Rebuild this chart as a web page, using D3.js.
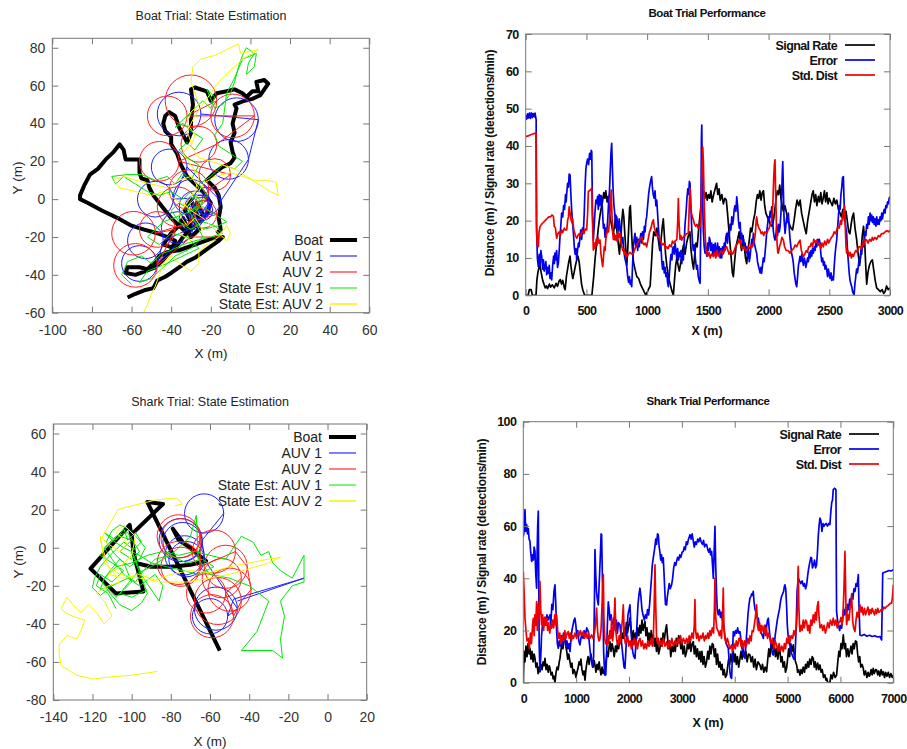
<!DOCTYPE html>
<html>
<head>
<meta charset="utf-8">
<script src="https://cdn.jsdelivr.net/npm/d3@7"></script>
<style>
  body { margin: 0; background: #fff; }
  svg { display: block; }
</style>
</head>
<body>
<svg id="chart" width="907" height="749"></svg>
<script>
//--boat trial: state estimation (x, y in m)--
var boatTrialBoat = [
  [-62,-52],[-58,-50],[-53,-48],[-49,-47],[-47,-43],[-43,-41],[-40,-39],
  [-36,-36],[-32,-33],[-28,-31],[-24,-28],[-20,-25],[-16,-22],[-14,-20],
  [-20,-21],[-28,-24],[-36,-27],[-42,-28],[-46,-30],[-48,-33],
  [-52,-37],[-56,-36],[-62,-36],[-63,-39],[-58,-40],[-53,-38],
  [-48,-36],[-44,-32],[-40,-27],[-38,-22],[-42,-20],[-47,-18],
  [-54,-16],[-60,-14],[-67,-10],[-75,-6],[-82,-2],[-86,0],[-86,2],[-84,7],[-81,13],[-77,16],
  [-73,21],[-69,25],[-66,29],[-64,26],[-63,21],[-59,21],[-56,21],[-56,14],[-55,11],[-52,10],
  [-51,6],[-49,2],[-46,-2],[-43,-6],[-40,-10],
  [-36,-14],[-34,-10],[-30,-20],[-26,-16],[-30,-8],[-27,-2],[-24,-8],[-28,-14],[-34,-20],
  [-38,-26],[-44,-24],[-40,-18],
  [-36,-14],[-32,-18],[-30,-12],[-33,-6],[-30,0],[-28,-6],[-25,-12],[-22,-8],[-20,-2],[-24,4],
  [-28,8],[-32,12],[-35,18],[-37,24],[-40,29],[-40,33],[-43,36],[-44,40],[-43,44],[-41,46],
  [-38,44],[-36,38],[-34,34],[-32,30],[-30,35],[-30,42],[-29,50],[-30,58],[-28,59],
  [-22,57],[-20,52],[-17,56],[-12,57],[-8,58],[-4,56],[-2,54],[1,57],[4,57],[3,62],[7,63],
  [9,61],[7,58],[5,55],[1,53],[-3,52],[-8,50],
  [-7,48],[-8,44],[-9,40],[-8,35],[-10,30],[-9,25],[-8,22],[-10,19],[-14,17],[-18,14],
  [-22,10],[-18,6],[-16,2],[-15,-4],[-16,-10],[-15,-16],[-17,-18]
];
// AUV tracks: [x, y, loop radius] (radius 0 = transit point)
var boatTrialAuv1 = [
  [-36,45,11],[-7,42,11],[-11,21,10],[-22,-1,7],[-41,17,9],[-48,0,9],[-30,1,9],
  [-27,-4,6],[-28,-4,8],[-37,-15,8],[-53,-22,9],[-56,-34,9],[-24,-6,5],[-30,-10,6],
  [-25,-2,4]
];
var boatTrialAuv2 = [
  [-30,52,13],[-42,44,10],[-9,44,11],[-26,29,9],[-46,20,10],[-18,13,8],[-31,5,10],
  [-37,-4,10],[-24,-8,7],[-59,-18,11],[-47,-16,9],[-58,-35,11],[-30,-20,0],[-14,-20,0]
];
var boatTrialEst1 = [
  [-60,-45],[-65,-40],[-62,-33],[-55,-30],[-50,-34],[-45,-29],[-40,-27],[-34,-24],[-28,-22],
  [-20,-20],[-14,-18],[-18,-14],[-24,-12],[-30,-16],[-36,-12],[-40,-6],[-36,-2],[-30,-6],
  [-26,-2],[-30,4],[-34,0],[-40,4],[-46,2],[-52,4],[-58,8],[-64,12],[-68,8],[-70,12],
  [-62,13],[-55,13],[-48,10],[-42,12],[-38,8],[-34,14],[-30,10],[-26,18],[-32,22],[-36,26],
  [-32,30],[-28,26],[-24,32],[-30,36],[-34,40],[-38,38],[-32,44],[-28,48],[-24,52],[-20,48],
  [-18,54],[-22,58],[-18,48],[-14,50],[-10,56],[-8,62],[-6,70],[-4,76],[-2,80],[2,77],
  [-1,72],[-2,66],[2,70],[3,77],[-4,74],[-8,64],[-12,56],[-14,40],[-18,34],[-16,28],
  [-10,24],[-4,20],[-8,16],[-14,18],[-20,12],[-26,8],[-22,2],[-26,-4],[-30,-10],[-24,-16],
  [-16,-14],[-12,-12],[-18,-8],[-24,-4],[-34,-8],[-44,-12],[-52,-20],[-46,-24],[-40,-18],
  [-32,-20],[-26,-26],[-34,-30],[-42,-34],[-52,-38],[-56,-44],[-50,-42],
  [-44,-36],[-38,-30],[-30,-26],[-24,-20],[-28,-12],[-32,-4],[-28,2],[-24,-2],[-30,-6]
];
var boatTrialEst2 = [
  [-54,-60],[-52,-56],[-50,-50],[-48,-46],[-46,-40],[-44,-34],[-40,-30],[-36,-34],[-30,-38],
  [-26,-34],[-26,-28],[-22,-24],[-16,-20],[-12,-14],[-10,-18],[-12,-22],[-18,-16],[-24,-10],
  [-30,-6],[-34,-2],[-30,2],[-26,6],[-30,12],[-36,10],[-42,6],[-50,8],[-58,10],[-64,12],
  [-69,10],[-66,6],[-58,4],[-50,2],[-44,4],[-38,0],[-32,-4],[-28,0],[-24,8],[-18,12],
  [-10,14],[-4,12],[2,10],[8,10],[13,9],[14,2],[10,4],[4,8],[-2,12],[-8,16],[-14,18],
  [-20,20],[-26,22],[-30,28],[-28,34],[-32,40],[-30,46],[-26,50],[-28,56],[-30,62],[-29,70],
  [-25,74],[-18,76],[-12,79],[-6,82],[-5,77],[0,78],[4,79],[-4,74],[-10,68],[-16,62],
  [-20,56],[-24,50],[-28,44],[-32,36],[-30,30],[-34,24],[-30,18],[-26,12],[-28,4],[-32,-2],
  [-36,-8],[-32,-14],[-28,-10],[-24,-16],[-30,-22],[-36,-18]
];

//--shark trial: state estimation--
var sharkTrialBoat = [
  [-55,-54],[-92,24],[-84,23],[-100,7],[-99,-3],[-94,-23],[-108,-24],[-121,-11],[-101,12],
  [-98,-8],[-90,-10],[-80,-10],[-70,-9],[-62,-7],[-68,-2],[-74,3],[-79,10],[-76,4],[-70,0],[-66,-4]
];
var sharkTrialAuv1 = [
  [-63,18,10],[-75,4,11],[-74,3,10],[-73,-4,10],[-72,-6,9],[-57,-32,11],[-60,-36,9],
  [-48,-27,0],[-12,-16,0],[-46,-28,0]
];
var sharkTrialAuv2 = [
  [-76,6,11],[-75,5,10],[-76,-8,11],[-75,-10,10],[-58,-2,11],[-52,-10,11],[-50,-22,11],
  [-56,-28,12],[-59,-36,11],[-62,-24,10],[-54,-16,10]
];
var sharkTrialEst1 = [
  [-108,-32],[-112,-24],[-118,-20],[-116,-14],[-110,-18],[-104,-12],[-110,-8],[-116,-4],
  [-112,2],[-106,6],[-100,4],[-106,-2],[-100,-6],[-96,-2],[-102,8],[-108,6],[-114,0],
  [-110,-6],[-104,-14],[-98,-18],[-94,-12],[-88,-6],[-80,-4],[-72,-8],[-64,-6],[-58,-10],
  [-66,-14],[-74,-12],[-82,-10],[-90,-8],[-96,-4],[-104,0],[-110,4],[-114,8],[-108,4],
  [-104,10],[-102,4],[-98,8],[-95,3],[-99,-1],[-104,3],[-108,-1],[-112,-5],[-116,-10],
  [-119,-16],[-120,-21],[-116,-25],[-112,-22],[-108,-26],[-104,-22],[-100,-18],[-104,-8],
  [-109,-3],[-113,3],[-110,9],[-106,12],[-102,10],[-97,5],[-93,0],[-96,-6],[-101,-10],
  [-106,-6],[-111,-12],[-115,-18],[-111,-24],[-106,-30],[-100,-33],[-95,-29],[-92,-24],
  [-100,-2],[-94,-16],[-86,-28],[-84,-20],[-88,-14],[-96,-20],[-102,-16],[-110,-20],
  [-116,-22],[-114,-16],[-108,-10],[-100,-8],[-92,-4],[-84,-2],[-76,-4],[-68,-2],[-60,-4],
  [-52,-6],[-44,6],[-38,3],[-34,-4],[-30,-2],[-28,-8],[-24,-12],[-18,-16],[-12,-4],
  [-12,-18],[-18,-20],[-24,-28],[-22,-36],[-24,-48],[-23,-58],[-28,-54],[-36,-54],
  [-44,-54],[-36,-44],[-30,-28],[-40,-20],[-50,-16],[-60,-14],[-66,-6],[-67,17],[-70,6],
  [-78,-2],[-90,-10],[-98,-14],[-106,-24],[-100,-26],[-92,-22]
];
var sharkTrialEst2 = [
  [-87,-65],[-100,-67],[-112,-68],[-120,-69],[-128,-67],[-136,-62],[-137,-56],[-137,-51],
  [-133,-46],[-128,-48],[-126,-44],[-124,-38],[-130,-36],[-134,-34],[-136,-32],[-133,-26],
  [-130,-30],[-126,-34],[-122,-30],[-118,-34],[-114,-40],[-110,-36],[-114,-28],[-118,-24],
  [-112,-20],[-106,-18],[-110,-12],[-114,-8],[-116,6],[-112,2],[-106,-2],[-102,2],[-108,8],
  [-104,12],[-98,6],[-100,-4],[-106,-10],[-112,-14],[-104,-16],[-96,-14],[-88,-17],[-80,-14],
  [-70,-12],[-60,-13],[-50,-10],[-40,-8],[-30,-6],[-24,-5],[-30,-8],[-40,-11],[-50,-14],
  [-60,-16],[-72,-18],[-84,-18],[-96,-16],[-106,-14],[-112,-10],[-116,4],[-107,20],
  [-104,21],[-96,23],[-88,25],[-80,26],[-77,26],[-74,23],[-78,22]
];

//--boat trial performance: [time, value]--
var boatSignal = [
  [0,0],[20,0],[30,1.5],[45,1.5],[55,0],[85,0],[92,4],[100,6],[110,7.5],[118,8],[128,6],
  [140,4],[150,3],[160,2],[170,2.5],[180,1.8],[195,3],[205,2.2],[220,2.8],[235,2],[250,3.2],
  [262,2.4],[275,3.8],[285,4.2],[295,3],[305,4],[318,2],[325,1.5],[335,5],[345,7],[355,9],
  [365,10.5],[372,8],[380,6],[388,4.5],[398,6],[410,8],[420,9.5],[430,10.5],[440,9],[450,6],
  [460,3],[470,1.5],[485,0],[545,0],[560,5],[572,10],[585,14],[598,18],[610,21],[620,23],
  [632,25],[643,27.5],[652,26],[660,28],[670,25],[680,26.5],[690,22],[700,20],[712,18],
  [722,16.5],[732,19],[742,21.5],[752,17],[762,14],[772,11],[782,15],[792,20],[800,23],
  [808,21],[815,17],[825,12],[832,8],[840,12],[848,18],[856,23.5],[862,24],[870,18],[878,13],
  [887,9],[900,7],[915,5],[930,4.5],[945,3],[960,2],[975,1],[990,0],[1010,1.5],[1025,2.5],
  [1035,8],[1045,14],[1055,17],[1068,16],[1080,18],[1092,15],[1104,12],[1115,15],[1125,18.5],
  [1133,20.5],[1142,16],[1152,11],[1162,8],[1175,5],[1190,3],[1205,1],[1216,0],[1225,4],
  [1235,8],[1245,10],[1255,8],[1265,6.5],[1278,9],[1290,12],[1300,13.5],[1312,11],[1325,14],
  [1340,16],[1352,17],[1362,12],[1372,9],[1382,7],[1392,11],[1402,14],[1412,13],[1425,18],
  [1440,23],[1455,27],[1465,28],[1475,26],[1485,27.5],[1495,25.5],[1505,27],[1515,26],
  [1525,28],[1535,25],[1548,27],[1560,28.5],[1572,30],[1582,27],[1592,28.5],[1602,25.5],
  [1615,27],[1628,24.5],[1640,26],[1652,25.5],[1662,22],[1672,18],[1682,14],[1692,10],
  [1702,6],[1710,5],[1720,9],[1732,13],[1745,15],[1758,17],[1768,14],[1778,12],[1790,16],
  [1800,13],[1810,10],[1820,8.5],[1830,12],[1842,15],[1852,18],[1862,17],[1875,20],[1888,22],
  [1898,25],[1908,27],[1918,26],[1928,28],[1938,25.5],[1948,27.5],[1958,28],[1968,24],
  [1978,22],[1990,21],[2002,20],[2015,19],[2028,18.5],[2040,20],[2052,23],[2062,26],[2072,28],
  [2082,27],[2092,29.5],[2102,26],[2112,24],[2122,22.5],[2135,24],[2148,22],[2160,20],
  [2172,19],[2185,18],[2198,17.5],[2210,20],[2222,23],[2235,25.5],[2248,24],[2260,25.5],
  [2272,22],[2285,20],[2298,18],[2310,16.5],[2322,20],[2335,22.5],[2348,25],[2358,27],
  [2368,28],[2378,25],[2388,27],[2398,24],[2410,26.5],[2420,25],[2430,27.5],[2440,24.5],
  [2450,26],[2460,28],[2470,25],[2480,27.5],[2490,24.5],[2500,26],[2512,25],[2525,24],
  [2538,26],[2550,24.5],[2562,25.5],[2575,23],[2588,22],[2600,21],[2612,23],[2625,20],
  [2638,22.5],[2650,19.5],[2660,17],[2670,16.5],[2680,19],[2690,21],[2700,22],[2712,18],
  [2725,15],[2738,11],[2750,8],[2762,12],[2772,16],[2782,18.5],[2792,14],[2800,8],[2808,3],
  [2818,6],[2830,8],[2842,9],[2855,9.5],[2865,7],[2878,4],[2890,2],[2905,1.5],[2920,1],
  [2935,1.5],[2948,0.5],[2960,1],[2972,2.5],[2985,1.5],[3000,2]
];
var boatError = [
  [0,48.3],[8,47.2],[15,48.6],[22,47.5],[30,48.8],[38,47.4],[46,48.9],[54,47.6],[62,48.7],
  [70,47.8],[77,48.8],[86,47],[90,18.4],[96,10],[104,7.7],[112,11],[118,8],[125,12],[132,10.4],
  [140,7],[146,9.5],[152,6.5],[159,7.7],[166,9],[173,5.5],[180,7.5],[187,5.9],[194,8],[200,4.5],
  [207,6],[214,4.1],[222,8],[230,10.5],[236,8.5],[241,11.3],[248,9.5],[255,12],[262,7.5],
  [269,8.6],[276,12],[283,16],[290,19],[296,22],[305,21],[312,24],[320,23],[328,27],[333,25],
  [338,27.3],[345,30],[352,29],[358,32.5],[365,32.2],[372,27],[380,22],[387,19],[393,16.6],
  [400,13],[407,11],[414,12.5],[420,9.5],[427,12],[434,14],[440,13],[447,15.7],[454,17.5],
  [461,15],[468,18],[475,16.6],[482,22],[490,30],[496,34],[502,35.4],[510,36.5],[518,35],
  [526,38],[533,36.5],[540,38.8],[544,38.5],[550,22],[557,14.8],[563,18],[570,22],[578,25.5],
  [585,24.6],[592,26.5],[598,23],[605,27],[612,24],[619,26.8],[626,26.3],[633,22],[640,18],
  [647,19],[654,15.5],[660,18],[667,16.6],[675,20],[683,25],[690,28],[697,34],[702,38],
  [708,40.7],[714,34],[720,28],[727,24],[736,21],[743,18],[750,21],[757,19],[764,17],
  [770,20.5],[777,18.4],[785,16],[792,14],[800,15.5],[808,12],[816,10],[824,9],[832,7.7],
  [840,5],[847,3.5],[854,5],[860,3],[866,4],[873,2.3],[880,8],[887,13],[893,15],[900,16.6],
  [908,13],[915,15.5],[922,12],[930,15],[935,13],[941,14.8],[948,16.5],[955,14],[962,17],
  [970,15],[977,18.5],[983,17],[990,20],[996,21],[1004,24],[1012,27],[1020,29],[1028,30.5],
  [1037,31.8],[1043,29],[1050,27],[1058,26],[1065,28],[1072,24],[1079,25.5],[1086,22],
  [1093,18],[1100,15],[1107,12],[1113,13.5],[1120,9.5],[1127,7],[1134,9],[1141,6],[1148,7.5],
  [1155,5],[1162,6],[1168,3.5],[1175,2.3],[1182,5],[1190,9],[1197,11],[1204,9.5],[1210,12.5],
  [1216,13],[1223,11],[1230,14],[1237,12],[1244,10],[1251,12.5],[1258,9.5],[1264,11.5],
  [1271,10.4],[1278,12],[1285,8.5],[1292,11],[1298,9.5],[1305,14],[1312,19],[1320,22],
  [1328,26],[1335,28.5],[1342,27],[1348,30.5],[1353,30],[1360,24],[1367,18],[1374,14],
  [1380,12],[1387,13.5],[1394,11.3],[1400,9],[1407,7],[1414,8],[1421,5],[1428,4],[1436,3.2],
  [1442,20],[1447,42],[1450,45.6],[1455,30],[1462,18],[1470,13],[1477,11.3],[1484,13],
  [1491,10.5],[1498,14],[1505,12],[1512,15.5],[1518,14.8],[1525,12],[1532,14],[1540,11],
  [1547,13.5],[1554,11],[1560,14],[1567,10.5],[1573,12.1],[1580,14],[1587,11],[1594,13],
  [1601,10],[1608,12.5],[1614,10],[1621,13],[1628,11.3],[1635,14],[1641,12],[1648,15.5],
  [1655,16.6],[1662,14],[1669,17],[1676,16],[1683,19],[1690,17.5],[1697,21],[1704,19],
  [1710,20.2],[1717,23],[1724,24],[1731,22.5],[1738,26.4],[1745,24],[1752,20],[1759,18],
  [1766,19.5],[1772,15],[1779,16.6],[1786,14],[1793,15],[1800,12.5],[1807,14],[1814,11.5],
  [1821,13],[1828,10],[1835,12],[1841,9],[1848,10.4],[1855,13],[1862,15],[1868,13.5],
  [1875,16.6],[1882,14],[1889,13],[1896,12],[1902,11.3],[1909,9],[1916,8],[1923,7],[1930,6],
  [1937,7.5],[1943,5.9],[1950,8],[1957,10],[1964,9],[1971,11.3],[1978,14],[1985,17],[1992,19],
  [1999,21],[2006,20],[2013,22.5],[2020,21],[2026,23.7],[2033,20],[2040,17],[2047,15.5],
  [2053,14.8],[2060,16],[2067,18.5],[2074,16],[2081,19],[2088,17],[2095,18.4],[2102,22],
  [2109,28],[2113,33],[2117,35.8],[2122,28],[2128,20],[2136,16.6],[2143,19],[2150,21],
  [2157,19.5],[2163,22],[2170,18],[2177,15],[2184,13],[2191,11],[2198,10],[2204,8.6],[2211,6],
  [2218,4.5],[2225,3],[2232,2.3],[2239,5],[2246,8],[2252,9],[2259,10.4],[2266,9],[2273,11],
  [2280,9.5],[2287,8],[2294,10],[2301,9],[2307,7.5],[2314,8.6],[2321,10],[2328,9],[2335,11.5],
  [2342,10],[2349,12],[2356,10.5],[2362,12.5],[2369,11.3],[2376,13],[2383,12],[2390,14.5],
  [2397,13],[2404,15],[2410,13.5],[2417,15],[2424,14],[2431,11],[2438,9],[2445,10],[2452,8],
  [2459,9],[2465,7],[2472,8],[2479,6.8],[2486,5],[2493,7],[2500,5.5],[2507,4.5],[2514,6],
  [2520,4],[2527,5],[2534,4.1],[2541,8],[2548,11],[2554,13],[2561,14.8],[2568,18],[2575,21],
  [2582,24],[2589,23],[2596,27],[2603,29],[2609,31.5],[2616,31.8],[2622,25],[2630,20],
  [2637,18],[2643,16.6],[2650,12],[2657,9],[2664,6],[2671,4],[2678,3],[2685,2.3],[2692,1],
  [2704,0],[2711,3],[2718,5],[2725,7],[2732,6],[2739,7.7],[2746,10],[2753,9],[2760,12],
  [2767,11],[2774,14],[2781,13],[2788,15],[2795,17],[2801,16],[2808,19],[2815,18],[2822,21],
  [2829,19],[2836,22],[2843,20],[2849,21.5],[2856,19.5],[2863,21],[2870,19],[2877,20.5],
  [2884,18.5],[2891,21],[2897,19],[2904,20.2],[2911,19],[2918,21],[2925,20],[2932,22],
  [2938,20.5],[2945,22],[2952,23],[2959,22],[2966,24],[2973,23.5],[2980,25],[2987,24.5],
  [2993,26],[3000,26.4]
];
var boatStdDist = [
  [0,42.5],[20,42.7],[40,43],[60,43.2],[85,43.5],[88,20],[90,16.6],[95,13.5],[100,15],[104,13],
  [110,17],[118,18.4],[130,19],[145,19.5],[160,20],[175,20.5],[190,21],[205,21],[215,21.5],
  [228,21.2],[235,18.5],[245,18],[255,15.3],[265,16.5],[275,17],[285,16],[295,17.5],[305,16.8],
  [318,18],[328,17.5],[338,17.5],[345,20],[352,21],[358,23.7],[365,22],[372,20.5],[380,19.5],
  [386,20.5],[393,18.4],[400,17],[410,16],[420,15.3],[430,16],[440,16.5],[450,15.8],[460,16.8],
  [470,17.2],[480,16.5],[490,17.8],[502,17.5],[510,22],[516,27.8],[525,28],[535,28.3],
  [544,28.7],[550,20],[557,12.1],[565,14],[572,12.5],[580,15],[588,13.5],[596,15.5],[604,14],
  [612,14.8],[620,11],[628,9],[634,7.7],[640,10],[647,13],[654,12],[660,15],[667,16.6],
  [675,18],[682,17],[690,20],[698,24],[704,28.2],[710,22],[716,17],[722,15],[729,16.5],
  [736,14.8],[744,16],[752,14.5],[760,17],[768,15.5],[777,16.6],[785,14],[792,13],[800,12],
  [808,12.5],[816,11],[824,11.5],[832,10.4],[845,11],[860,11.5],[875,11],[887,11.3],[900,12.5],
  [915,13.5],[930,14.5],[942,15],[955,15.7],[965,14],[975,13.5],[985,14],[996,13],[1008,15],
  [1020,17],[1032,18],[1042,19.5],[1051,20.2],[1060,18],[1070,17],[1080,16],[1090,15.5],
  [1098,16],[1106,14.8],[1118,14],[1130,13.5],[1142,14],[1150,12.5],[1161,13],[1172,12.5],
  [1185,13.5],[1198,13],[1208,14.5],[1216,14],[1230,14.5],[1245,15],[1252,20],[1257,25.9],
  [1262,20],[1270,15],[1278,16],[1285,14.8],[1295,15.5],[1310,16],[1325,16.5],[1339,16.6],
  [1345,22],[1350,27],[1353,28.7],[1358,25],[1365,22],[1373,21],[1381,20.2],[1390,19],
  [1400,18.5],[1410,19],[1420,18],[1428,18.5],[1436,18.4],[1445,25],[1452,34],[1458,39.8],
  [1463,36],[1470,25],[1478,16],[1485,12],[1490,11.3],[1500,10.5],[1510,11.5],[1520,10],
  [1530,11],[1545,10.4],[1555,11.5],[1565,10],[1575,12],[1585,10.5],[1600,11.3],[1612,12],
  [1625,11],[1640,12.5],[1655,13],[1665,12],[1675,11],[1690,12],[1700,11],[1710,11.3],
  [1722,12.5],[1735,13.5],[1748,14],[1758,15],[1765,14.8],[1775,13],[1785,12.5],[1798,13],
  [1810,12],[1820,12.1],[1832,13],[1845,12.5],[1858,13.5],[1868,13],[1875,14],[1885,15],
  [1892,17],[1898,20],[1902,21],[1910,19],[1920,18],[1930,17.5],[1940,16.5],[1950,17],
  [1960,16],[1970,17],[1985,16.6],[1995,17.5],[2005,18],[2015,19],[2026,20.2],[2035,24],
  [2042,31],[2048,35],[2053,36.3],[2058,28],[2064,20],[2070,14],[2076,11.5],[2081,11.3],
  [2090,13],[2100,14],[2110,15.5],[2122,14.8],[2132,13],[2145,12],[2160,12],[2177,11.3],
  [2190,12],[2205,12.5],[2220,13.5],[2232,13],[2245,14],[2259,14.8],[2270,12],[2280,11],
  [2287,10.4],[2298,11],[2310,12],[2320,11.5],[2330,13],[2341,13],[2352,14],[2362,13],
  [2372,15],[2384,14],[2396,14.8],[2408,13.5],[2420,14],[2430,12.5],[2440,14],[2451,13],
  [2462,14.5],[2474,13.5],[2486,15],[2496,14],[2506,14.8],[2518,15.5],[2530,16],[2540,17],
  [2550,16.5],[2561,17.5],[2572,18.5],[2582,18],[2592,20],[2600,19],[2608,21],[2616,22],
  [2625,24],[2632,18],[2638,13],[2643,11.3],[2652,12],[2662,10.5],[2672,11.5],[2682,10],
  [2690,11],[2698,10.4],[2710,11.5],[2720,12],[2730,11.5],[2742,13],[2753,13],[2765,12.5],
  [2775,14],[2785,13.5],[2796,15],[2808,14.8],[2820,14],[2832,15],[2845,14.5],[2855,15.5],
  [2863,14.8],[2875,15.5],[2890,15],[2905,16],[2918,15.7],[2930,16.5],[2945,16.5],[2960,17],
  [2975,17.3],[2990,17],[3000,17.5]
];

//--shark trial performance--
var sharkSignal = [
  [0,0],[15,12],[32,8],[50,14],[70,10],[90,15],[110,11],[126,13.2],[145,9],[165,12],[185,8],
  [205,11],[221,9.3],[240,6],[260,7.5],[280,3.5],[300,6],[315,4.2],[335,7],[355,5],[375,8],
  [395,6.5],[410,9.3],[430,5],[450,7],[470,4],[490,6.5],[505,5.5],[525,3],[545,4],[565,1.5],
  [580,2.5],[599,0],[620,4],[640,6],[660,5],[680,8],[694,9.3],[710,12],[730,15],[750,13],
  [770,17],[788,18.3],[805,14],[822,12],[840,9],[860,11],[883,8],[900,6],[920,7.5],[940,3.5],
  [960,5],[977,4.2],[995,2],[1015,4],[1035,5.5],[1055,8],[1072,6.8],[1090,9],[1110,5],[1130,3],
  [1150,4.5],[1167,1],[1185,5],[1205,8],[1225,10],[1245,7],[1261,9.3],[1280,11],[1300,8],
  [1320,6],[1340,8.5],[1356,6.8],[1375,4],[1395,7],[1415,5],[1435,8],[1450,5.5],[1470,3],
  [1490,6],[1510,3.5],[1530,5],[1545,4.2],[1565,8],[1585,12],[1605,10],[1625,14],[1640,15.7],
  [1660,12],[1680,15],[1700,13],[1720,10],[1745,14],[1766,11.9],[1785,16],[1805,13],[1825,18],
  [1850,15],[1870,19],[1892,17],[1910,21],[1930,18],[1950,23],[1970,19],[1995,22],[2018,24.7],
  [2040,20],[2060,16],[2080,20],[2100,15],[2120,19],[2144,17],[2165,21],[2185,18],[2205,22],
  [2225,19],[2245,24],[2265,20],[2285,22],[2302,23.4],[2320,18],[2340,21],[2360,16],[2380,19],
  [2400,15],[2420,20],[2440,17],[2459,18.3],[2480,14],[2500,17],[2520,12],[2540,16],[2560,11],
  [2585,13.2],[2605,17],[2625,14],[2645,19],[2665,16],[2690,20],[2711,22.2],[2730,17],
  [2750,13],[2770,16],[2790,10],[2815,14],[2837,11.9],[2855,15],[2875,12],[2895,17],[2915,14],
  [2940,18],[2963,17],[2980,13],[3000,16],[3020,11],[3045,14],[3065,10],[3090,11.9],[3110,16],
  [3130,13],[3150,17],[3170,12],[3195,15],[3216,15.7],[3235,11],[3255,14],[3275,10],[3295,13],
  [3320,9],[3342,11.9],[3360,8],[3380,12],[3400,7],[3420,10],[3445,6],[3468,8],[3490,12],
  [3510,9],[3530,14],[3550,11],[3575,15],[3594,14.5],[3615,10],[3635,13],[3655,7],[3675,11],
  [3700,6],[3720,8],[3740,5],[3760,7],[3780,3],[3800,5],[3825,2],[3847,2.9],[3865,6],[3885,9],
  [3905,7],[3925,11],[3950,8],[3973,11.9],[3990,8],[4010,11],[4030,7],[4050,10],[4075,6],
  [4099,9.3],[4120,12],[4140,9],[4160,13],[4185,10],[4210,12],[4235,8],[4260,11],[4288,10.6],
  [4310,8],[4335,10],[4360,6],[4385,9],[4410,5],[4440,8],[4477,6.8],[4500,5],[4525,7],[4550,4],
  [4575,6],[4603,4.2],[4625,9],[4645,13],[4665,10],[4690,15],[4710,13],[4729,17],[4750,14],
  [4770,10],[4790,13],[4815,9],[4835,13],[4855,11.9],[4875,8],[4895,10],[4915,6],[4940,8],
  [4960,4],[4981,5.5],[5000,9],[5020,13],[5040,10],[5060,15],[5085,12],[5108,14.5],[5130,10],
  [5150,8],[5171,6.8],[5190,4],[5210,5],[5234,2.9],[5255,5],[5275,3.5],[5295,6],[5320,4],
  [5340,7],[5360,5.5],[5380,8],[5400,6],[5420,9],[5445,7],[5465,10],[5486,9.3],[5505,6],
  [5525,8],[5545,5],[5570,7.5],[5590,5],[5612,6.8],[5635,4],[5655,5],[5680,2],[5705,3],
  [5725,1],[5739,1.7],[5760,0],[5801,0],[5820,3],[5845,1.5],[5870,4],[5900,2],[5927,2.9],
  [5950,8],[5970,12],[5990,10],[6010,15],[6030,13],[6054,18.3],[6075,13],[6095,15],[6115,10],
  [6140,13],[6160,10],[6180,11.9],[6200,14],[6220,11],[6240,15],[6260,13],[6285,16],
  [6306,15.7],[6325,11],[6345,8],[6365,10],[6385,6],[6410,7],[6432,5.5],[6450,3],[6475,4.5],
  [6500,2],[6525,4],[6545,2.5],[6558,2.9],[6580,5],[6600,3],[6620,5.5],[6640,3.5],[6665,5],
  [6684,4.9],[6705,3],[6725,4.5],[6745,2.5],[6770,5],[6790,3],[6810,4.2],[6835,2],[6855,4],
  [6880,2.5],[6905,4],[6930,2],[6955,3.5],[6980,2],[7000,2.9]
];
var sharkError = [
  [0,56],[15,58],[32,66.3],[45,58],[63,60.6],[80,57],[95,59],[110,55],[126,54.2],[140,50],
  [158,46.5],[175,49],[190,47],[205,52],[221,50.3],[235,42],[252,36.2],[262,50],[272,60],
  [284,65.7],[292,40],[300,15],[315,4.2],[330,10],[345,18],[362,22],[378,24.7],[395,22],
  [412,25],[430,23],[448,26],[465,24],[485,25],[505,26],[520,22],[540,30],[560,28],[580,35],
  [599,37.5],[615,30],[630,20],[645,15],[662,13.2],[680,16],[700,14],[720,18],[740,15],
  [760,19],[775,16],[788,17],[805,14],[825,16],[845,13],[865,15],[883,11.9],[900,16],[920,20],
  [940,22],[960,24],[977,24.7],[995,22],[1010,18],[1030,20],[1050,16],[1072,14.5],[1090,17],
  [1110,19],[1130,17],[1150,20],[1175,18],[1200,21],[1230,19.6],[1250,15],[1270,11],[1293,8],
  [1310,6],[1330,10],[1345,30],[1356,51],[1370,42],[1385,35],[1400,32],[1419,29.8],[1440,40],
  [1460,50],[1472,57],[1482,56.7],[1492,45],[1505,30],[1520,12],[1535,5],[1545,2.9],[1560,3],
  [1575,10],[1590,22],[1608,31],[1625,28],[1640,24],[1660,26],[1680,23],[1703,22.2],[1720,25],
  [1740,20],[1760,24],[1780,19],[1800,23],[1829,22.2],[1850,17],[1870,13],[1890,9],[1905,6],
  [1923,5.5],[1940,12],[1960,20],[1980,26],[2000,28],[2018,29.8],[2035,22],[2050,16],[2070,12],
  [2090,10],[2113,9.3],[2130,15],[2150,22],[2170,30],[2190,34],[2207,36.2],[2225,33],[2245,28],
  [2265,26],[2290,24],[2310,26],[2333,24.7],[2350,28],[2370,26],[2390,30],[2410,36],[2425,40],
  [2440,45],[2459,47.8],[2475,50],[2490,52],[2505,55],[2520,53],[2540,57],[2554,56.7],
  [2570,52],[2585,50],[2600,47],[2615,49],[2630,46],[2648,47.8],[2662,42],[2675,36],[2690,30],
  [2711,29.8],[2725,33],[2740,35],[2760,38],[2780,36],[2806,37.5],[2825,40],[2845,44],
  [2865,46],[2885,45],[2900,46.5],[2920,48],[2940,47],[2960,49],[2980,48],[3005,50],
  [3027,50.3],[3045,52],[3065,51],[3085,54],[3105,53],[3125,55],[3153,56.7],[3175,55],
  [3195,57],[3216,54.2],[3235,52],[3255,54],[3275,53],[3300,55],[3320,54],[3342,55.5],
  [3365,54],[3390,53],[3410,54.5],[3430,52],[3450,53],[3468,52.9],[3490,51],[3510,50],
  [3530,51.5],[3545,49],[3563,50.3],[3580,45],[3595,40],[3610,50],[3626,59.9],[3640,45],
  [3655,35],[3670,28],[3689,26],[3710,28],[3730,25],[3750,27],[3765,24],[3783,23.4],[3800,20],
  [3820,17],[3840,15],[3860,14],[3878,13.2],[3895,8],[3910,4],[3925,2],[3941,1.7],[3955,10],
  [3973,19.6],[3995,18],[4015,20],[4035,19],[4055,21],[4075,19],[4099,19.6],[4120,16],
  [4140,13],[4160,11],[4175,10],[4193,9.3],[4210,14],[4230,20],[4250,26],[4270,30],[4288,32.4],
  [4305,33],[4320,34],[4335,33.5],[4351,35],[4365,31],[4385,28],[4405,27],[4425,25],
  [4446,24.7],[4465,22],[4485,20],[4505,19],[4525,18],[4540,17],[4560,20],[4580,22],[4600,21],
  [4620,24],[4635,24.7],[4655,20],[4675,16],[4695,13],[4715,11],[4729,10.6],[4745,14],
  [4765,18],[4785,21],[4805,24],[4824,26],[4845,28],[4865,31],[4885,33],[4905,34],[4925,35],
  [4940,37],[4950,37.5],[4965,36],[4980,30],[4995,22],[5010,18],[5025,16],[5045,14.5],
  [5060,12],[5080,11],[5100,10],[5120,9],[5139,9.3],[5160,20],[5180,35],[5202,40.1],[5225,39],
  [5250,38],[5275,39],[5300,37],[5320,38],[5340,36],[5360,37.5],[5380,41],[5400,44],[5420,46],
  [5440,48],[5454,47.8],[5470,44],[5490,45],[5510,47],[5530,44],[5549,45.2],[5565,50],
  [5580,56],[5595,60],[5612,63.1],[5630,62],[5650,58],[5670,61],[5690,60],[5707,60.6],
  [5730,61],[5755,60],[5780,61],[5801,60.6],[5820,66],[5835,69],[5850,70],[5864,74],
  [5890,74.5],[5915,74],[5920,50],[5927,27.3],[5945,24],[5965,22],[5985,20],[6005,22],
  [6022,20.9],[6040,24],[6060,28],[6080,26],[6100,29],[6117,26],[6135,30],[6155,28],[6175,32],
  [6195,30],[6215,34],[6235,32],[6255,36],[6275,35],[6295,38],[6315,37],[6338,41.4],[6350,30],
  [6369,18.3],[6400,18],[6450,18.5],[6500,17.8],[6550,18.2],[6600,17.7],[6650,18],[6700,17.5],
  [6747,17.7],[6779,16.4],[6790,30],[6800,42],[6873,42.6],[6920,43],[6960,42.8],[7000,43.3]
];
var sharkStdDist = [
  [0,42.6],[15,35],[32,24.7],[50,20],[70,16],[95,17],[115,13],[135,19],[155,15],[175,22],
  [189,24.7],[205,18],[220,26],[235,22],[252,31.1],[265,20],[280,30],[300,25],[315,38.8],
  [330,28],[347,22.2],[365,26],[385,20],[405,25],[425,22],[441,24.7],[460,20],[480,23],
  [500,19],[520,22],[536,20.9],[555,24],[575,21],[595,26],[615,22],[631,26],[650,20],[670,17],
  [690,19],[710,15],[725,15.7],[745,18],[765,16],[785,20],[805,17],[830,19],[851,19.6],
  [870,17],[890,19],[910,16],[930,18],[950,17],[975,19],[1009,17],[1030,19],[1055,18],
  [1080,20],[1105,18],[1135,19.6],[1160,17],[1185,19],[1210,17],[1235,19],[1260,17],
  [1293,18.3],[1320,17],[1345,19],[1365,22],[1387,28.6],[1405,20],[1420,17],[1435,16],
  [1450,17],[1470,20],[1490,30],[1505,38],[1514,41.4],[1525,25],[1540,17],[1560,15],
  [1577,14.5],[1595,18],[1615,15],[1635,20],[1655,17],[1671,24.7],[1690,16],[1710,20],
  [1725,28],[1734,32.4],[1750,20],[1770,16],[1797,14.5],[1815,18],[1835,15],[1855,20],
  [1875,24],[1892,29.8],[1910,18],[1930,15],[1955,15.7],[1975,18],[1995,14],[2020,16],
  [2045,13],[2065,16],[2081,14.5],[2100,17],[2120,14],[2140,16],[2160,13],[2185,16],[2207,17],
  [2230,14],[2255,16],[2280,13],[2305,15],[2330,13],[2355,16],[2375,14],[2396,14.5],[2420,17],
  [2440,14],[2460,17],[2475,28],[2491,45.2],[2505,30],[2520,18],[2540,15],[2554,17],[2575,14],
  [2600,16],[2625,14],[2650,17],[2680,14],[2711,15.7],[2735,13],[2760,16],[2785,14],[2810,17],
  [2840,14],[2870,16],[2900,14.5],[2925,17],[2950,15],[2975,18],[3000,15],[3030,17],[3060,15],
  [3090,17],[3115,15],[3140,18],[3165,16],[3190,19],[3215,17],[3235,22],[3247,31.8],[3260,20],
  [3279,17],[3300,19],[3325,16],[3350,18],[3375,17],[3400,19],[3425,16],[3450,18],[3468,17],
  [3490,19],[3510,17],[3530,20],[3550,18],[3575,21],[3600,19],[3615,28],[3626,40.1],[3640,25],
  [3660,21],[3689,19.6],[3710,18],[3730,20],[3750,17],[3770,25],[3783,36.2],[3795,22],
  [3815,17],[3835,15],[3860,17],[3885,15],[3910,13],[3941,14.5],[3960,12],[3985,15],[4010,13],
  [4030,16],[4055,14],[4080,17],[4099,17],[4120,14],[4145,16],[4165,13],[4190,16],[4210,14],
  [4225,14.5],[4250,17],[4270,15],[4290,18],[4310,16],[4330,20],[4351,19.6],[4370,22],
  [4390,25],[4405,28],[4414,29.8],[4430,22],[4450,20],[4470,23],[4490,19],[4510,22],
  [4540,19.6],[4560,22],[4580,18],[4600,21],[4620,17],[4645,19],[4666,17],[4690,15],[4715,17],
  [4740,13],[4765,16],[4792,14.5],[4815,12],[4840,15],[4865,12],[4890,14],[4918,11.9],
  [4940,15],[4960,13],[4985,17],[5010,15],[5030,18],[5045,15.7],[5070,18],[5095,17],[5120,20],
  [5145,18],[5170,22],[5188,30],[5196,42],[5202,44.6],[5212,30],[5225,22],[5234,19.6],
  [5255,22],[5275,20],[5295,24],[5315,21],[5340,24],[5360,23.4],[5380,20],[5400,22],[5420,19],
  [5440,24],[5460,22],[5486,26],[5505,23],[5525,27],[5545,24],[5560,29],[5580,31.1],[5595,25],
  [5615,21],[5644,22.2],[5665,20],[5690,22],[5715,19],[5739,20.9],[5760,23],[5785,21],
  [5810,24],[5840,22],[5864,24.7],[5890,22],[5915,24],[5940,21],[5965,23],[5990,23.4],
  [6010,25],[6030,22],[6050,27],[6065,35],[6078,45],[6085,50.3],[6095,40],[6105,28],
  [6117,22.2],[6140,26],[6160,24],[6180,28],[6200,30],[6212,33.7],[6230,24],[6250,21],
  [6275,19.6],[6295,24],[6315,27],[6340,25],[6369,29.8],[6390,27],[6410,29],[6430,26],
  [6455,28.5],[6475,26],[6495,27.3],[6520,29],[6540,26],[6560,28],[6580,26.5],[6600,28.5],
  [6621,27.3],[6645,26],[6665,28],[6685,26.5],[6705,28.5],[6725,27],[6747,27.3],[6770,28],
  [6795,27.5],[6820,29],[6845,28.5],[6873,29.2],[6900,29.5],[6925,30],[6950,30.5],[6968,30.5],
  [6985,33],[7000,37.5]
];

var estNames = ["Boat", "AUV 1", "AUV 2", "State Est: AUV 1", "State Est: AUV 2"];
var perfNames = ["Signal Rate", "Error", "Std. Dist"];

var svg = d3.select("#chart");
var leftFont = "'Liberation Sans', Arial, sans-serif";

//--frame with mirrored inward ticks--
function drawFrame(g, x, y, xTicks, yTicks, bold) {
  var w = x.range()[1] - x.range()[0];
  var h = y.range()[0] - y.range()[1];
  var fmt = function (d) { return String(d); };
  var axes = [
    [d3.axisBottom(x).tickValues(xTicks).tickFormat(fmt).tickPadding(bold ? 11 : 12), "translate(0," + h + ")"],
    [d3.axisTop(x).tickValues(xTicks).tickFormat(""), "translate(0,0)"],
    [d3.axisLeft(y).tickValues(yTicks).tickFormat(fmt).tickPadding(7), "translate(0,0)"],
    [d3.axisRight(y).tickValues(yTicks).tickFormat(""), "translate(" + w + ",0)"]
  ];
  axes.forEach(function (a) {
    var ax = g.append("g").attr("transform", a[1])
      .call(a[0].tickSizeInner(-6).tickSizeOuter(0));
    ax.select(".domain").remove();
    ax.selectAll("line").attr("stroke", "#777");
    ax.selectAll("text")
      .attr("fill", bold ? "#111" : "#333")
      .style("font-family", leftFont)
      .style("font-size", bold ? "12.5px" : "14px")
      .style("font-weight", bold ? "bold" : "normal")
      .style("letter-spacing", bold ? "-0.6px" : "0px");
  });
  g.append("rect").attr("width", w).attr("height", h)
    .attr("fill", "none").attr("stroke", "#777").attr("stroke-width", 1);
}

//--AUV track: loops joined by transit lines--
function auvPath(track, x, y) {
  var p = d3.path();
  track.forEach(function (d, i) {
    var cx = x(d[0]), cy = y(d[1]);
    var r = Math.abs(x(d[0] + d[2]) - cx);
    if (i == 0) p.moveTo(cx + r, cy); else p.lineTo(cx + r, cy);
    if (r > 0) p.arc(cx, cy, r, 0, 2 * Math.PI);
  });
  return p.toString();
}

//--state estimation panel--
function drawEstimation(opt) {
  var x = d3.scaleLinear().domain(opt.xDomain).range([0, opt.right - opt.left]);
  var y = d3.scaleLinear().domain(opt.yDomain).range([opt.bottom - opt.top, 0]);
  var g = svg.append("g").attr("transform", "translate(" + opt.left + "," + opt.top + ")");
  var clipId = "clip-" + opt.id;
  g.append("clipPath").attr("id", clipId).append("rect")
    .attr("width", x.range()[1]).attr("height", y.range()[0]);

  var plot = g.append("g").attr("clip-path", "url(#" + clipId + ")");
  var line = d3.line().x(function (d) { return x(d[0]); }).y(function (d) { return y(d[1]); });

  plot.append("path").attr("d", line(opt.boat)).attr("fill", "none")
    .attr("stroke", "#000").attr("stroke-width", 4).attr("stroke-linejoin", "round");
  plot.append("path").attr("d", auvPath(opt.auv1, x, y)).attr("fill", "none")
    .attr("stroke", "#1f1fff").attr("stroke-width", 1);
  plot.append("path").attr("d", auvPath(opt.auv2, x, y)).attr("fill", "none")
    .attr("stroke", "#ff1f1f").attr("stroke-width", 1);
  plot.append("path").attr("d", line(opt.est1)).attr("fill", "none")
    .attr("stroke", "#00e600").attr("stroke-width", 1);
  plot.append("path").attr("d", line(opt.est2)).attr("fill", "none")
    .attr("stroke", "#f5f500").attr("stroke-width", 1);

  drawFrame(g, x, y, opt.xTicks, opt.yTicks, false);

  //legend
  var colors = ["#000", "#5555ff", "#ff5555", "#55ee55", "#f5f500"];
  var lg = svg.append("g");
  estNames.forEach(function (name, i) {
    var ly = opt.legendY + i * 16;
    lg.append("text").attr("x", opt.legendX).attr("y", ly + 5)
      .attr("text-anchor", "end").attr("fill", "#222")
      .style("font-family", leftFont).style("font-size", "14px").text(name);
    lg.append("line").attr("x1", opt.legendX + 7).attr("x2", opt.legendX + 34)
      .attr("y1", ly).attr("y2", ly).attr("stroke", colors[i])
      .attr("stroke-width", i == 0 ? 4 : 1.5);
  });

  svg.append("text").attr("x", opt.titleX).attr("y", opt.titleY).attr("text-anchor", "middle")
    .attr("fill", "#222").style("font-family", leftFont).style("font-size", "12.5px").text(opt.title);
  svg.append("text").attr("x", opt.titleX).attr("y", opt.xLabelY).attr("text-anchor", "middle")
    .attr("fill", "#222").style("font-family", leftFont).style("font-size", "13.5px").text("X (m)");
  svg.append("text").attr("transform", "translate(" + opt.yLabelX + "," + opt.yLabelY + ") rotate(-90)")
    .attr("text-anchor", "middle").attr("fill", "#222")
    .style("font-family", leftFont).style("font-size", "13.5px").text("Y (m)");
}

//--performance panel--
function drawPerformance(opt) {
  var x = d3.scaleLinear().domain(opt.xDomain).range([0, opt.right - opt.left]);
  var y = d3.scaleLinear().domain(opt.yDomain).range([opt.bottom - opt.top, 0]);
  var g = svg.append("g").attr("transform", "translate(" + opt.left + "," + opt.top + ")");
  var clipId = "clip-" + opt.id;
  g.append("clipPath").attr("id", clipId).append("rect")
    .attr("width", x.range()[1]).attr("height", y.range()[0]);
  var plot = g.append("g").attr("clip-path", "url(#" + clipId + ")");
  var line = d3.line().x(function (d) { return x(d[0]); }).y(function (d) { return y(d[1]); });

  var series = [[opt.signal, "#000"], [opt.error, "#0000ee"], [opt.std, "#ee0000"]];
  series.forEach(function (s) {
    plot.append("path").attr("d", line(s[0])).attr("fill", "none")
      .attr("stroke", s[1]).attr("stroke-width", 1.7).attr("stroke-linejoin", "round");
  });

  drawFrame(g, x, y, opt.xTicks, opt.yTicks, true);

  var lg = svg.append("g");
  perfNames.forEach(function (name, i) {
    var ly = opt.legendY + i * 15;
    lg.append("text").attr("x", opt.legendX).attr("y", ly + 4.5)
      .attr("text-anchor", "end").attr("fill", "#111")
      .style("font-family", leftFont).style("font-size", "12.5px")
      .style("font-weight", "bold").style("letter-spacing", "-0.6px").text(name);
    lg.append("line").attr("x1", opt.legendX + 8).attr("x2", opt.legendX + 38)
      .attr("y1", ly).attr("y2", ly).attr("stroke", series[i][1]).attr("stroke-width", 1.7);
  });

  svg.append("text").attr("x", opt.titleX).attr("y", opt.titleY).attr("text-anchor", "middle")
    .attr("fill", "#111").style("font-family", leftFont).style("font-size", "11.5px")
    .style("font-weight", "bold").style("letter-spacing", "-0.4px").text(opt.title);
  svg.append("text").attr("x", opt.titleX).attr("y", opt.xLabelY).attr("text-anchor", "middle")
    .attr("fill", "#111").style("font-family", leftFont).style("font-size", "12.5px")
    .style("font-weight", "bold").text("X (m)");
  svg.append("text").attr("transform", "translate(" + opt.yLabelX + "," + opt.yLabelY + ") rotate(-90)")
    .attr("text-anchor", "middle").attr("fill", "#111")
    .style("font-family", leftFont).style("font-size", "12px")
    .style("font-weight", "bold").style("letter-spacing", "-0.3px")
    .text("Distance (m) / Signal rate (detections/min)");
}

drawEstimation({
  id: "p1", left: 52.3, right: 369.3, top: 38.3, bottom: 312.7,
  xDomain: [-100, 60], yDomain: [-60, 85],
  xTicks: d3.range(-100, 61, 20), yTicks: d3.range(-60, 81, 20),
  boat: boatTrialBoat, auv1: boatTrialAuv1, auv2: boatTrialAuv2,
  est1: boatTrialEst1, est2: boatTrialEst2,
  legendX: 323, legendY: 240,
  title: "Boat Trial: State Estimation", titleX: 211, titleY: 20,
  xLabelY: 358, yLabelX: 22, yLabelY: 178
});

drawPerformance({
  id: "p2", left: 525.7, right: 890, top: 34, bottom: 295.3,
  xDomain: [0, 3000], yDomain: [0, 70],
  xTicks: d3.range(0, 3001, 500), yTicks: d3.range(0, 71, 10),
  signal: boatSignal, error: boatError, std: boatStdDist,
  legendX: 837, legendY: 45,
  title: "Boat Trial Performance", titleX: 707, titleY: 17,
  xLabelY: 335, yLabelX: 494, yLabelY: 163
});

drawEstimation({
  id: "p3", left: 53.3, right: 366.7, top: 424, bottom: 700,
  xDomain: [-140, 20], yDomain: [-80, 65],
  xTicks: d3.range(-140, 21, 20), yTicks: d3.range(-80, 61, 20),
  boat: sharkTrialBoat, auv1: sharkTrialAuv1, auv2: sharkTrialAuv2,
  est1: sharkTrialEst1, est2: sharkTrialEst2,
  legendX: 322, legendY: 437,
  title: "Shark Trial: State Estimation", titleX: 210, titleY: 406,
  xLabelY: 746, yLabelX: 23, yLabelY: 562
});

drawPerformance({
  id: "p4", left: 523.3, right: 893.3, top: 421.7, bottom: 682.7,
  xDomain: [0, 7000], yDomain: [0, 100],
  xTicks: d3.range(0, 7001, 1000), yTicks: d3.range(0, 101, 20),
  signal: sharkSignal, error: sharkError, std: sharkStdDist,
  legendX: 841, legendY: 434,
  title: "Shark Trial Performance", titleX: 708, titleY: 405,
  xLabelY: 727, yLabelX: 486, yLabelY: 552
});
</script>
</body>
</html>
